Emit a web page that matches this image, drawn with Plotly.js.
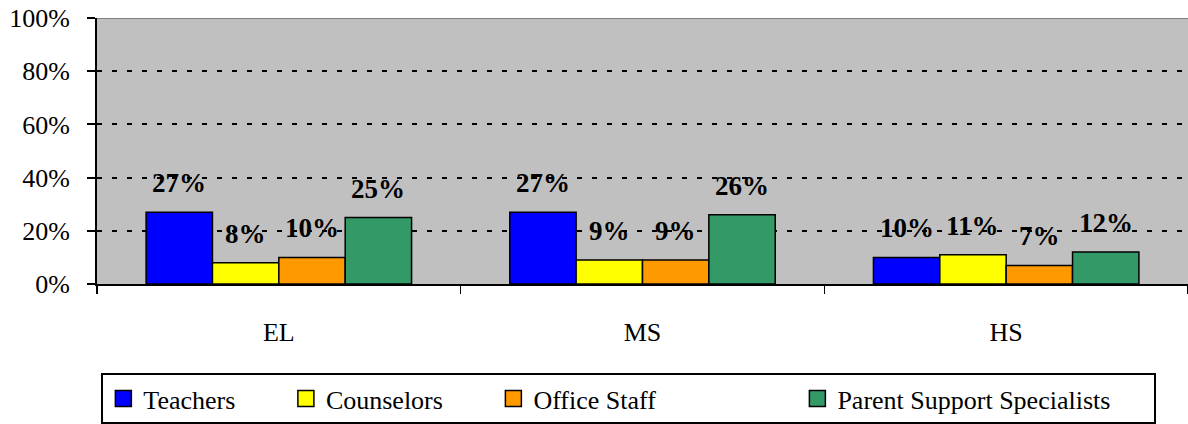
<!DOCTYPE html>
<html>
<head>
<meta charset="utf-8">
<script src="https://cdn.plot.ly/plotly-3.0.1.min.js"></script>
<style>
html,body{margin:0;padding:0;background:#fff;}
#chart{width:1188px;height:424px;}
</style>
</head>
<body>
<div id="chart"></div>
<script>
const categories = ["EL", "MS", "HS"];
const seriesNames = ["Teachers", "Counselors", "Office Staff", "Parent Support Specialists"];
const teachers = [27, 27, 10];
const counselors = [8, 9, 11];
const officeStaff = [10, 9, 7];
const parentSupport = [25, 26, 12];
const yTickVals = [0, 20, 40, 60, 80, 100];
const yTickText = ["0%", "20%", "40%", "60%", "80%", "100%"];

const seriesValues = [teachers, counselors, officeStaff, parentSupport];
const colors = ["#0000FF", "#FFFF00", "#FF9900", "#339966"];
const FONT = "Liberation Serif";
const bargap = 0.27;
const nS = seriesValues.length;
const bw = (1 - bargap) / nS;

const traces = [];
seriesValues.forEach((vals, i) => {
  traces.push({
    type: "bar",
    x: categories,
    y: vals,
    name: seriesNames[i],
    showlegend: false,
    marker: {color: colors[i], line: {color: "#000", width: 1.5}},
    hoverinfo: "none"
  });
});
// legend proxies (same colours, larger swatches)
const pads = [7, 7, 21, 6];
seriesValues.forEach((vals, i) => {
  traces.push({
    type: "scatter",
    mode: "markers",
    x: [null],
    y: [null],
    name: seriesNames[i] + "\u00a0".repeat(pads[i]),
    marker: {symbol: "square", size: 16, color: colors[i], line: {color: "#000", width: 1.5}},
    hoverinfo: "none"
  });
});

const annotations = [];
seriesValues.forEach((vals, i) => {
  vals.forEach((v, j) => {
    annotations.push({
      x: j + (i - (nS - 1) / 2) * bw,
      y: v,
      xref: "x", yref: "y",
      text: "<b>" + v + "%</b>",
      showarrow: false,
      yanchor: "bottom",
      yshift: 12,
      font: {family: FONT, size: 27, color: "#000"}
    });
  });
});

const layout = {
  width: 1188,
  height: 424,
  margin: {l: 97, r: 0, t: 18, b: 137},
  paper_bgcolor: "#FFFFFF",
  plot_bgcolor: "#C0C0C0",
  barmode: "group",
  bargap: bargap,
  bargroupgap: 0,
  font: {family: FONT, color: "#000"},
  xaxis: {
    type: "category",
    range: [-0.5, 2.5],
    tickson: "boundaries",
    ticks: "outside",
    ticklen: 8,
    tickwidth: 1.5,
    tickcolor: "#000",
    showline: true,
    linecolor: "#000",
    linewidth: 2,
    showgrid: false,
    tickfont: {family: FONT, size: 26, color: "#000"},
    ticklabelstandoff: 24,
    fixedrange: true
  },
  yaxis: {
    range: [0, 100],
    tickvals: yTickVals,
    ticktext: yTickText,
    ticks: "outside",
    ticklen: 8,
    tickwidth: 2,
    tickcolor: "#000",
    showline: true,
    linecolor: "#000",
    linewidth: 2,
    showgrid: true,
    gridcolor: "#000",
    gridwidth: 2,
    griddash: "5px,10px",
    zeroline: false,
    tickfont: {family: FONT, size: 26, color: "#000"},
    ticklabelstandoff: 12,
    fixedrange: true
  },
  showlegend: true,
  legend: {
    orientation: "h",
    x: 0.004,
    xanchor: "left",
    y: -0.335,
    yanchor: "top",
    bordercolor: "#000",
    borderwidth: 2,
    bgcolor: "#FFFFFF",
    font: {family: FONT, size: 26, color: "#000"},
    itemsizing: "trace",
    itemwidth: 30
  },
  shapes: [{
    type: "line", xref: "paper", yref: "y",
    x0: 0, x1: 1, y0: 100, y1: 100,
    line: {color: "#808080", width: 2}
  }],
  annotations: annotations
};

Plotly.newPlot("chart", traces, layout, {displayModeBar: false, staticPlot: true});
</script>
</body>
</html>
